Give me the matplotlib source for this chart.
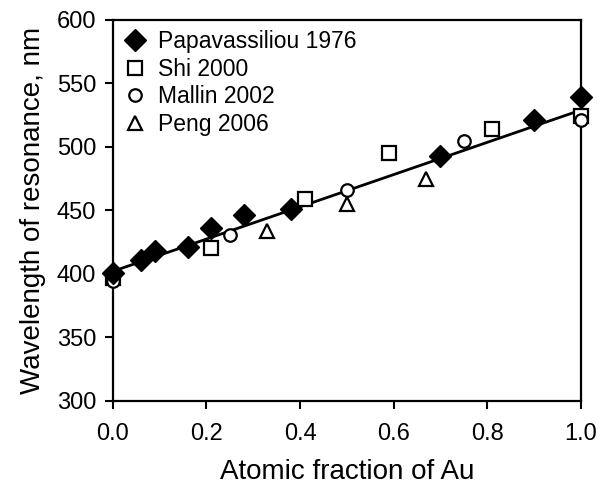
import numpy as np
import matplotlib
matplotlib.use('Agg')
import matplotlib.pyplot as plt

plt.rcParams['font.family'] = ['Liberation Sans', 'DejaVu Sans']

# data
papa_x = [0.0, 0.06, 0.09, 0.16, 0.21, 0.28, 0.38, 0.70, 0.90, 1.0]
papa_y = [401, 411, 418, 421, 436, 446, 451, 493, 521, 539]
shi_x = [0.0, 0.21, 0.41, 0.59, 0.81, 1.0]
shi_y = [397, 420, 459, 495, 514, 524]
mallin_x = [0.0, 0.25, 0.50, 0.75, 1.0]
mallin_y = [394, 431, 466, 505, 521]
peng_x = [0.33, 0.50, 0.67]
peng_y = [434, 455, 475]
fit_x = [0.0, 1.0]
fit_y = [402, 529]

fig = plt.figure(figsize=(5.97, 4.87), dpi=100)
ax = fig.add_axes([0.189, 0.177, 0.784, 0.782])

ax.plot(fit_x, fit_y, color='black', lw=2, zorder=1, clip_on=False)
ax.plot(papa_x, papa_y, 'D', ms=11, color='black', label='Papavassiliou 1976',
        zorder=4, clip_on=False)
ax.plot(shi_x, shi_y, 's', ms=10.5, mfc='white', mec='black', mew=1.6,
        label='Shi 2000', zorder=3, clip_on=False)
ax.plot(mallin_x, mallin_y, 'o', ms=9, mfc='white', mec='black', mew=1.6,
        label='Mallin 2002', zorder=3, clip_on=False)
ax.plot(peng_x, peng_y, '^', ms=10.5, mfc='white', mec='black', mew=1.6,
        label='Peng 2006', zorder=3, clip_on=False)

ax.set_xlim(0, 1)
ax.set_ylim(300, 600)
ax.set_xticks(np.arange(0, 1.01, 0.2))
ax.set_yticks(np.arange(300, 601, 50))
ax.set_xticklabels(['0.0', '0.2', '0.4', '0.6', '0.8', '1.0'])
ax.tick_params(labelsize=17, width=1.5, length=6, direction='out')
ax.tick_params(axis='x', pad=10)
ax.tick_params(axis='y', pad=6)
ax.tick_params(top=False, right=False)
for s in ax.spines.values():
    s.set_linewidth(1.6)

ax.set_xlabel('Atomic fraction of Au', fontsize=20, labelpad=10)
ax.set_ylabel('Wavelength of resonance, nm', fontsize=20, labelpad=8)

ax.legend(loc='upper left', frameon=False, fontsize=16.5, handlelength=1.0,
          handletextpad=0.5, labelspacing=0.2, borderaxespad=0.15, borderpad=0.3)

fig.savefig('out.png', dpi=100)
